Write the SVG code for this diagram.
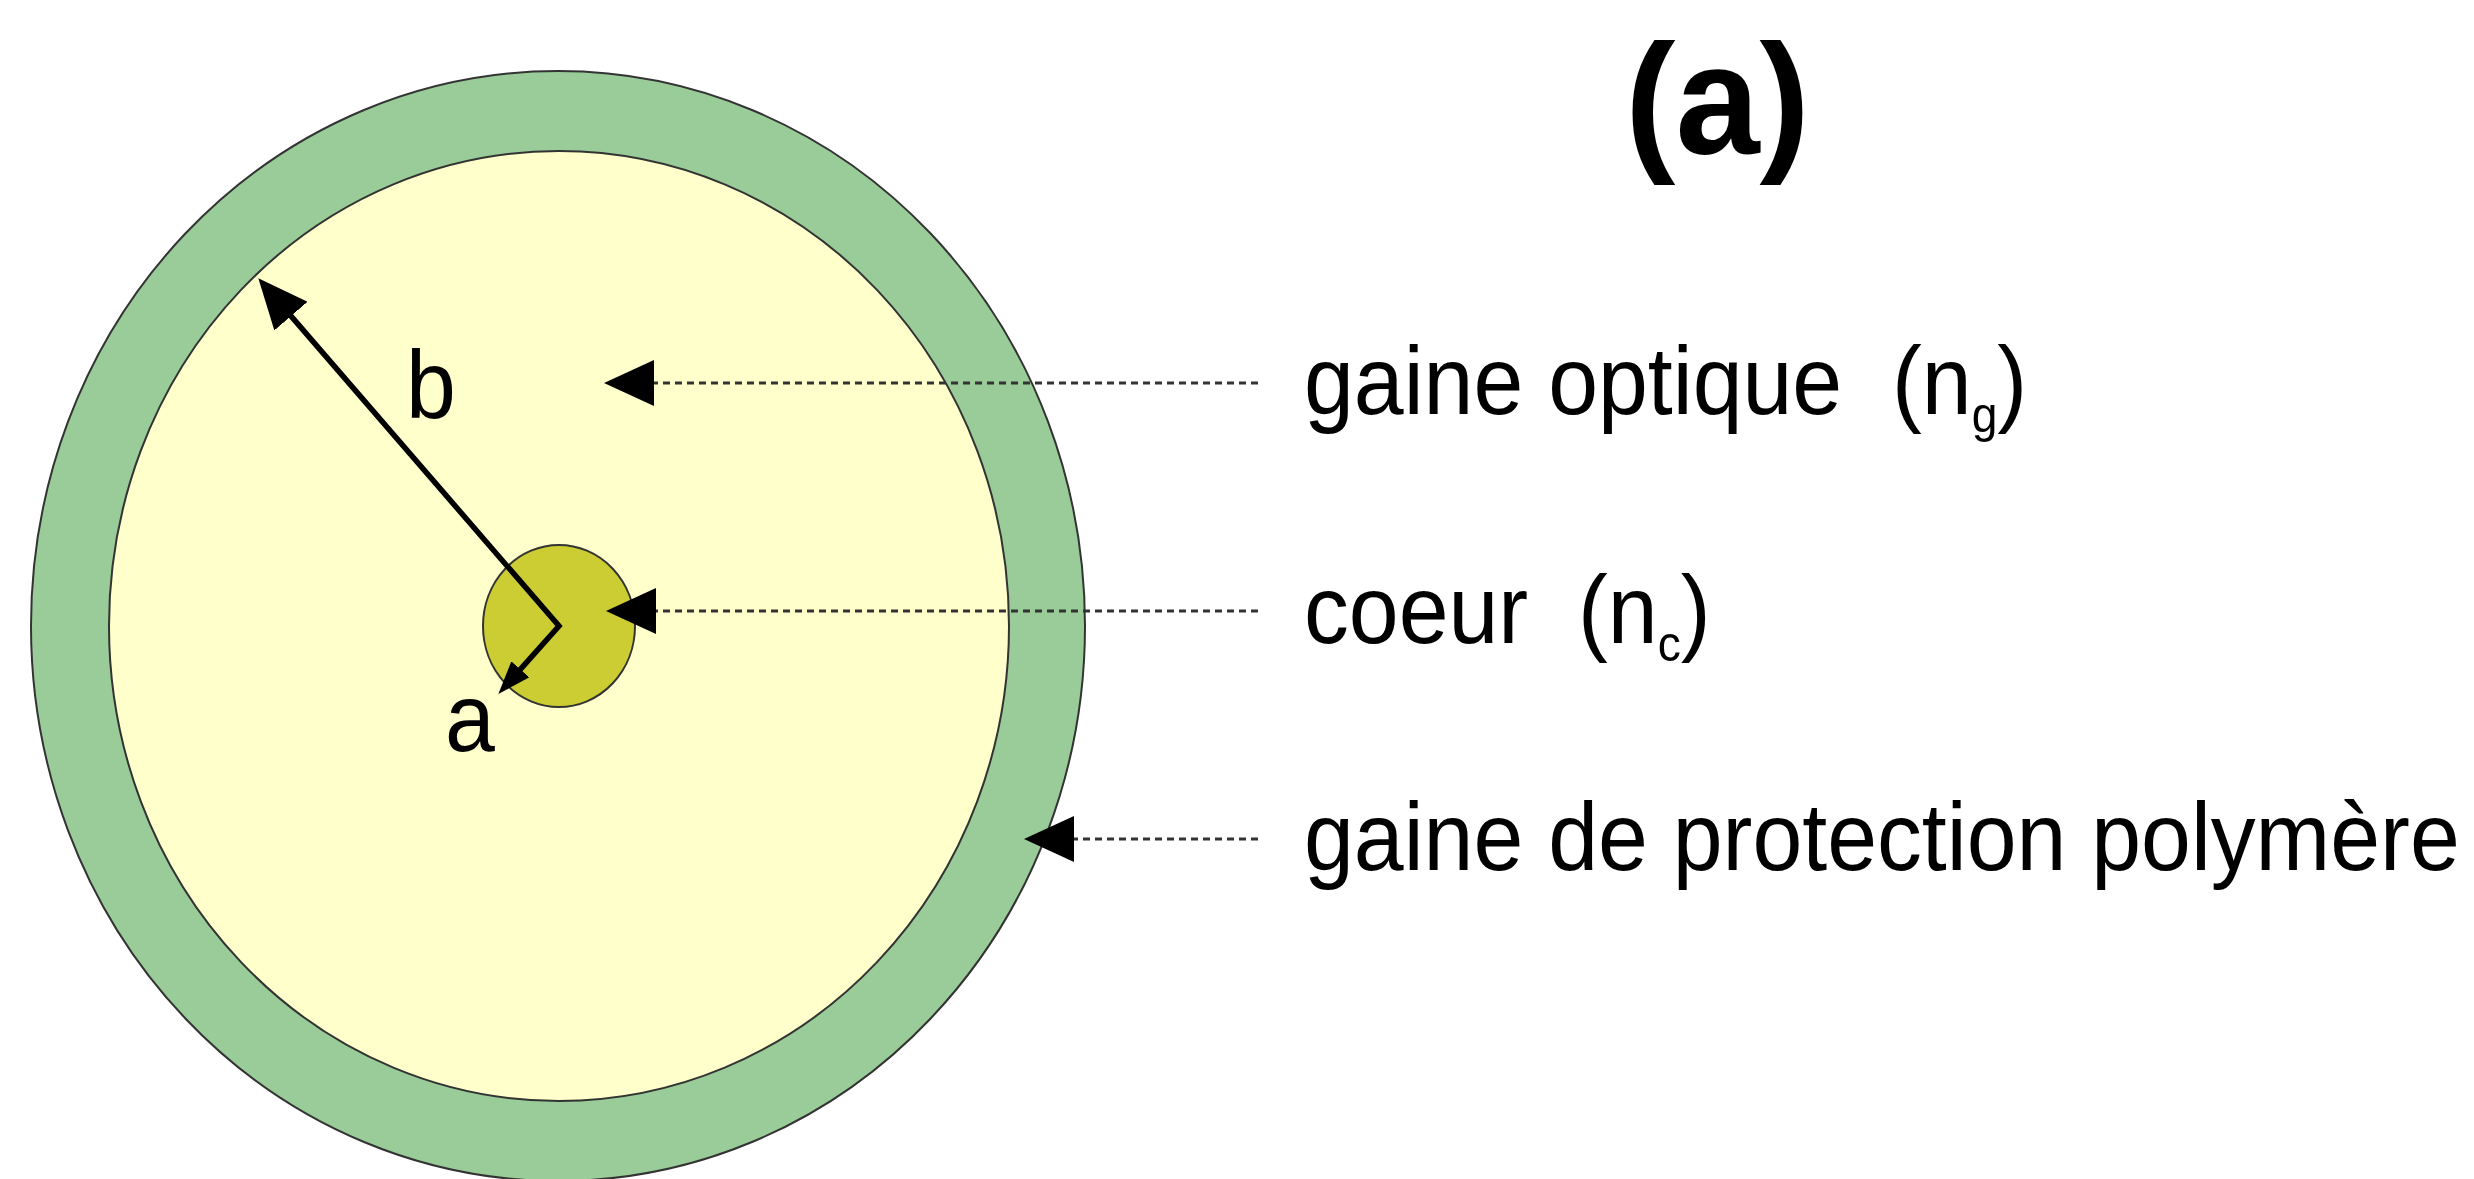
<svg xmlns="http://www.w3.org/2000/svg" width="2474" height="1179" viewBox="0 0 2474 1179">
<style>
.shape{stroke:#333333;stroke-width:2}
.lbl{font-family:"Liberation Sans",Arial,sans-serif;font-size:97px;fill:#000}
.sub{font-size:50px}
.title{font-family:"Liberation Sans",Arial,sans-serif;font-size:156px;font-weight:bold;fill:#000}
.dash{stroke:#333333;stroke-width:3;stroke-dasharray:7 5;fill:none}
.radius{stroke:#000;stroke-width:5.5;fill:none;stroke-linejoin:miter;stroke-miterlimit:10}
</style>
<defs>
<marker id="headL" markerUnits="userSpaceOnUse" viewBox="0 0 50 44" markerWidth="50" markerHeight="44" refX="30" refY="22" orient="auto-start-reverse">
<path d="M0,0 L50,22 L0,44 Z" fill="#000"/>
</marker>
<marker id="headD" markerUnits="userSpaceOnUse" viewBox="0 0 50 46" markerWidth="50" markerHeight="46" refX="2" refY="23" orient="auto">
<path d="M0,0 L50,23 L0,46 Z" fill="#000"/>
</marker>
<marker id="headS" markerUnits="userSpaceOnUse" viewBox="0 0 33 24" markerWidth="33" markerHeight="24" refX="20" refY="12" orient="auto">
<path d="M0,0 L33,12 L0,24 Z" fill="#000"/>
</marker>
</defs>
<rect width="2474" height="1179" fill="#ffffff"/>
<g id="protection">
<ellipse class="shape" cx="558" cy="626" rx="527" ry="555" fill="#99cc99"/>
</g>
<g id="gaine-optique">
<ellipse class="shape" cx="559" cy="626" rx="450" ry="475" fill="#ffffcc"/>
</g>
<g id="coeur">
<ellipse class="shape" cx="559" cy="626" rx="76" ry="81" fill="#cccc33"/>
</g>
<g id="connectors">
<path class="radius" d="M271.4,293.4 L559,626 L507,684.3" marker-start="url(#headL)" marker-end="url(#headS)"/>
<line class="dash" x1="1258" y1="383" x2="652" y2="383" marker-end="url(#headD)"/>
<line class="dash" x1="1258" y1="611" x2="654" y2="611" marker-end="url(#headD)"/>
<line class="dash" x1="1258" y1="839" x2="1072" y2="839" marker-end="url(#headD)"/>
</g>
<g id="label-b">
<text class="lbl" transform="translate(406,418) scale(0.924,1)">b</text>
</g>
<g id="label-a">
<text class="lbl" transform="translate(445,751) scale(0.924,1)">a</text>
</g>
<g id="title">
<text class="title" transform="translate(1625,153) scale(0.97,1)">(a)</text>
</g>
<g id="text-gaine-optique">
<text class="lbl" xml:space="preserve" transform="translate(1304,414) scale(0.924,1)">gaine optique  (n<tspan class="sub" dy="18">g</tspan><tspan dy="-18">)</tspan></text>
</g>
<g id="text-coeur">
<text class="lbl" xml:space="preserve" transform="translate(1304,643) scale(0.924,1)">coeur  (n<tspan class="sub" dy="18">c</tspan><tspan dy="-18">)</tspan></text>
</g>
<g id="text-protection">
<text class="lbl" transform="translate(1304,870) scale(0.924,1)">gaine de protection polymère</text>
</g>
</svg>
